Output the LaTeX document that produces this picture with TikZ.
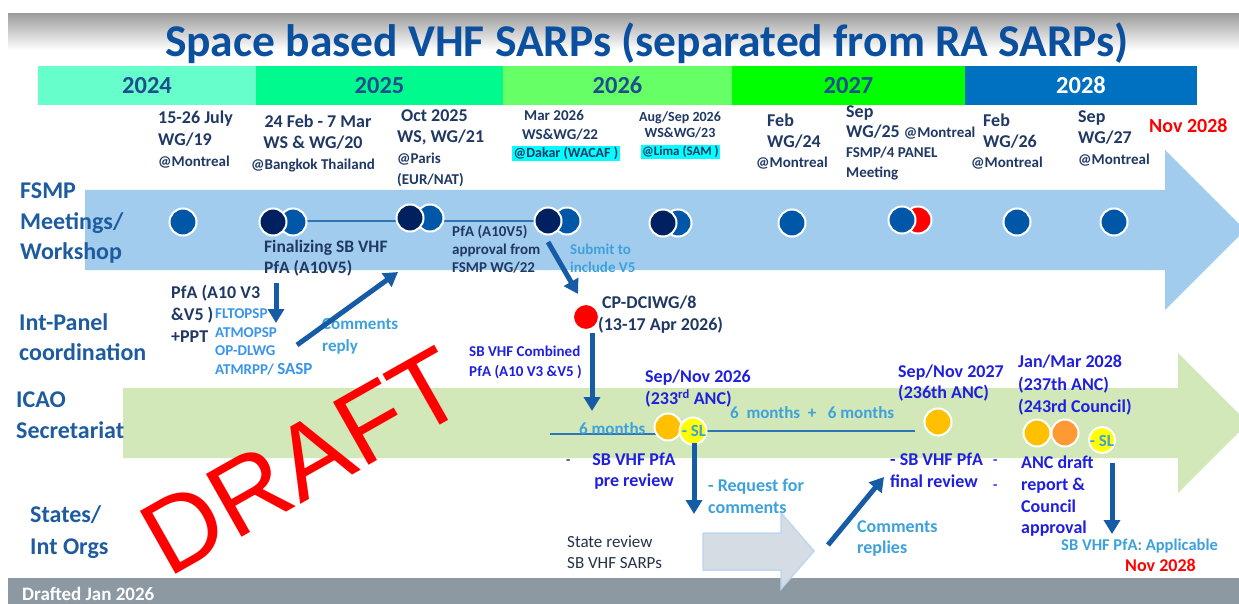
\documentclass[tikz,border=0pt]{standalone}
\usepackage{fontspec}
\setmainfont{Carlito}
\newfontfamily\draftfont{Liberation Sans}
\usetikzlibrary{arrows.meta}
\definecolor{titleblue}{HTML}{0B4F9F}
\definecolor{dnavy}{HTML}{1F3864}
\definecolor{lblblue}{HTML}{1E5C9F}
\definecolor{brblue}{HTML}{1F1FE0}
\definecolor{ltblue}{HTML}{3DA2DC}
\definecolor{mdblue}{HTML}{3A95EA}
\definecolor{arrblue}{HTML}{165BA6}
\definecolor{cmid}{HTML}{0057A8}
\definecolor{cnavy}{HTML}{002060}
\definecolor{corange}{HTML}{FFC000}
\definecolor{clorange}{HTML}{FF9933}
\definecolor{cyellow}{HTML}{FFFF00}
\definecolor{cred}{HTML}{FF0000}
\definecolor{bandblue}{HTML}{A2CCEE}
\definecolor{bandgreen}{HTML}{D3E8B8}
\definecolor{yrA}{HTML}{66FFCC}
\definecolor{yrB}{HTML}{00FA8E}
\definecolor{yrC}{HTML}{66FF66}
\definecolor{yrD}{HTML}{00FF00}
\definecolor{yrE}{HTML}{0070C0}
\definecolor{yrtext}{HTML}{1F4E8F}
\definecolor{footgray}{HTML}{8C99A3}
\definecolor{sgray}{HTML}{D6DCE4}
\definecolor{sedge}{HTML}{BDD7EE}
\definecolor{statetext}{HTML}{263248}
\definecolor{hlcyan}{HTML}{00FFFF}
\definecolor{linkblue}{HTML}{2E75B6}
\newcommand{\fsz}[2]{\fontsize{#1}{#2}\selectfont}
\begin{document}
\begin{tikzpicture}[x=1pt,y=-1pt,
  lb/.style={inner sep=0,align=left,anchor=base west},
  lbc/.style={inner sep=0,align=center,anchor=base},
  yr/.style={inner sep=0,minimum height=39,font=\bfseries\fsz{24.5}{28},text=yrtext},
  dot/.style={circle,inner sep=0,minimum size=27,draw=white,line width=2},
  arr/.style={line width=5,draw=arrblue,-{Triangle[length=14,width=16]}},
  link/.style={line width=1.3,draw=linkblue}]
\useasboundingbox (0,0) rectangle (1239,604);
\fill[white] (0,0) rectangle (1239,604);
\shade[top color=black!38,bottom color=white] (8,14) rectangle (1239,50);
\node[inner sep=0,anchor=base,font=\bfseries\fsz{45.5}{50},text=titleblue] (title) at (647,57) {Space based VHF SARPs (separated from RA SARPs)};
% years
\node[yr,fill=yrA,minimum width=218] (b24) at (147,85.5) {2024};
\node[yr,fill=yrB,minimum width=247] (b25) at (379.5,85.5) {2025};
\node[yr,fill=yrC,minimum width=229] (b26) at (617.5,85.5) {2026};
\node[yr,fill=yrD,minimum width=233] (b27) at (848.5,85.5) {2027};
\node[yr,fill=yrE,minimum width=232,text=white] (b28) at (1081,85.5) {2028};
% bands
\fill[bandblue] (85,190) -- (1165,190) -- (1165,150) -- (1245,230) -- (1165,310) -- (1165,270) -- (85,270) -- cycle;
\fill[bandgreen] (123,388) -- (1178,388) -- (1178,353) -- (1248,423) -- (1178,493) -- (1178,458) -- (123,458) -- cycle;
% footer
\fill[footgray] (8,578) rectangle (1239,604);
\node[lb,font=\bfseries\fsz{19}{22},text=white] (foot) at (22,600) {Drafted Jan 2026};
\filldraw[fill=sgray,draw=sedge,line width=1.5] (703,533) -- (781,533) -- (781,513) -- (814,551) -- (781,589) -- (781,570) -- (703,570) -- cycle;
% band labels
\node[lb,font=\bfseries\fsz{24}{30.5},text=lblblue] (lfsmp) at (20,259.5) {FSMP\\Meetings/\\Workshop};
\node[lb,font=\bfseries\fsz{24}{30},text=lblblue] (lint) at (19,360.5) {Int-Panel\\coordination};
\node[lb,font=\bfseries\fsz{24}{31},text=lblblue] (licao) at (16,438.5) {ICAO\\Secretariat};
\node[lb,font=\bfseries\fsz{24}{32},text=lblblue] (lstate) at (30,554.5) {States/\\Int Orgs};
% meeting labels
\node[lb,font=\bfseries\fsz{18}{21.5},text=dnavy] (m19) at (158,166.8) {15-26 July\\WG/19\\{\fsz{15}{21}@Montreal}};
\node[lbc,font=\bfseries\fsz{18}{21},text=dnavy] (m20) at (313,169.8) {\hspace*{10pt}24 Feb - 7 Mar\\WS \& WG/20\\{\fsz{15}{20}@Bangkok Thailand}};
\node[lb,font=\bfseries\fsz{18}{21},text=dnavy] (m21) at (397,184.8) {\hspace*{4pt}Oct 2025\\WS, WG/21\\{\fsz{15}{21}@Paris}\\{\fsz{15}{21}(EUR/NAT)}};
\node[lb,font=\bfseries\fsz{15}{19},text=dnavy] (m22) at (522,139.8) {\hspace*{2pt}Mar 2026\\WS\&WG/22};
\node[inner sep=1.5,fill=hlcyan,anchor=west,font=\bfseries\fsz{14}{16},text=dnavy] (m22c) at (512,153.5) {@Dakar (WACAF )};
\node[lbc,font=\bfseries\fsz{14}{16},text=dnavy] (m23) at (680,137.3) {Aug/Sep 2026\\WS\&WG/23};
\node[inner sep=1.5,fill=hlcyan,font=\bfseries\fsz{13}{15},text=dnavy] (m23c) at (680.5,152) {@Lima (SAM )};
\node[lb,font=\bfseries\fsz{18}{20.5},text=dnavy] (m24) at (767,167.8) {Feb\\WG/24\\\hspace*{-11pt}{\fsz{15}{20}@Montreal}};
\node[lb,font=\bfseries\fsz{18}{20},text=dnavy] (m25) at (846,177.8) {Sep\\WG/25 {\fsz{15}{20}@Montreal}\\{\fsz{15}{20}FSMP/4 PANEL}\\{\fsz{15}{20}Meeting}};
\node[lb,font=\bfseries\fsz{18}{20.5},text=dnavy] (m26) at (983,167.8) {Feb\\WG/26\\\hspace*{-12pt}{\fsz{15}{20}@Montreal}};
\node[lb,font=\bfseries\fsz{18}{21},text=dnavy] (m27) at (1078,164.8) {Sep\\WG/27\\{\fsz{15}{20}@Montreal}};
\node[lb,font=\bfseries\fsz{20}{22},text=red] (nov) at (1149,132.5) {Nov 2028};
% FSMP band texts
\node[lb,font=\bfseries\fsz{17.5}{21},text=dnavy] (fin) at (264,273.6) {Finalizing SB VHF\\PfA (A10V5)};
\node[lb,font=\bfseries\fsz{15}{18},text=dnavy] (appr) at (452,272.8) {PfA (A10V5)\\approval from\\FSMP WG/22};
\node[lb,font=\bfseries\fsz{15}{18},text=ltblue] (sub) at (570,272.8) {Submit to\\include V5};
% int panel texts
\node[lb,font=\bfseries\fsz{18}{22},text=dnavy] (pfa) at (171,342.8) {PfA (A10 V3\\\&V5 )\\+PPT};
\node[lb,font=\bfseries\fsz{15}{18.5},text=mdblue] (panels) at (215,374) {FLTOPSP\\ATMOPSP\\OP-DLWG\\ATMRPP/ {\fsz{17}{18.5}SASP}};
\node[lb,font=\bfseries\fsz{17}{22},text=ltblue] (com) at (322,351.2) {Comments\\reply};
\node[lb,font=\bfseries\fsz{18}{22},text=dnavy] (cptxt) at (602,330.8) {CP-DCIWG/8\\\hspace*{-4pt}(13-17 Apr 2026)};
\node[lb,font=\bfseries\fsz{15}{20},text=brblue] (sbc) at (469,376.8) {SB VHF Combined\\PfA (A10 V3 \&V5 )};
% green band texts
\node[lb,font=\bfseries\fsz{18}{22},text=brblue] (snov26) at (645,404.8) {Sep/Nov 2026\\(233\textsuperscript{rd} ANC)};
\node[lb,font=\bfseries\fsz{18}{21},text=brblue] (snov27) at (898,398.8) {Sep/Nov 2027\\(236th ANC)};
\node[lb,font=\bfseries\fsz{18}{22.5},text=brblue] (jan28) at (1018,412.8) {Jan/Mar 2028\\(237th ANC)\\(243rd Council)};
% lines
\coordinate (l1s) at (293,221); \coordinate (l1e) at (567,221);
\draw[link] (l1s) -- (l1e);
\coordinate (g1s) at (550,434); \coordinate (g1e) at (668,434);
\draw[link] (g1s) -- (g1e);
\coordinate (g2s) at (693,431); \coordinate (g2e) at (915,431);
\draw[link] (g2s) -- (g2e);
\node[lb,font=\bfseries\fsz{17}{20},text=ltblue] (six1) at (579,434.5) {6 months};
\node[lb,font=\bfseries\fsz{17}{20},text=ltblue] (six2) at (730,418.5) {6\ \ months\ \ +\ \ \ 6 months};
% FSMP circles
\node[dot,fill=cmid] (c1) at (183,222) {};
\node[dot,fill=cmid] (c2b) at (293,222) {};
\node[dot,fill=cnavy] (c2a) at (273,222) {};
\node[dot,fill=cmid] (c3b) at (430,218) {};
\node[dot,fill=cnavy] (c3a) at (410,218) {};
\node[dot,fill=cmid] (c4b) at (567,221) {};
\node[dot,fill=cnavy] (c4a) at (548,221) {};
\node[dot,fill=cmid] (c5b) at (678,223) {};
\node[dot,fill=cnavy] (c5a) at (663,223) {};
\node[dot,fill=cmid] (c6) at (792,223) {};
\node[dot,fill=cred] (c7b) at (918,220) {};
\node[dot,fill=cmid] (c7a) at (902,220) {};
\node[dot,fill=cmid] (c8) at (1017,222) {};
\node[dot,fill=cmid] (c9) at (1114,222) {};
\node[dot,fill=cred,minimum size=26] (cp) at (586,317) {};
% green circles
\node[dot,fill=corange] (o1) at (668,427) {};
\node[dot,fill=cyellow] (y1) at (693,431) {};
\node[inner sep=0,font=\bfseries\fsz{17}{20},text=ltblue] (sl1) at (694,430.5) {- SL};
\node[dot,fill=corange] (o2) at (938,422) {};
\node[dot,fill=corange] (o3) at (1037,433) {};
\node[dot,fill=clorange] (o4) at (1065,433) {};
\node[dot,fill=cyellow,minimum size=26] (y2) at (1102,440) {};
\node[inner sep=0,font=\bfseries\fsz{17}{20},text=ltblue] (sl2) at (1102,441) {- SL};
% lower texts
\node[lb,font=\bfseries\fsz{14}{16},text=dnavy] (dash1) at (566,464) {-};
\node[lbc,font=\bfseries\fsz{18}{21},text=brblue] (pre) at (634,486.8) {SB VHF PfA\\pre review};
\node[lb,font=\bfseries\fsz{18}{22},text=brblue] (fin2) at (890,487.8) {- SB VHF PfA\\final review};
\node[lb,font=\bfseries\fsz{14}{25},text=brblue] (dash2) at (993,489) {-\\-};
\node[lb,font=\bfseries\fsz{18}{22},text=ltblue] (req) at (708,513.8) {- Request for\\comments};
\node[lb,font=\bfseries\fsz{18}{21},text=ltblue] (crep) at (857,553.8) {Comments\\replies};
\node[lb,font=\bfseries\fsz{18}{21.7},text=brblue] (anc) at (1021,533.8) {ANC draft\\report \&\\Council\\approval};
\node[lb,font=\bfseries\fsz{16.5}{20},text=ltblue] (appl) at (1061,550) {SB VHF PfA: Applicable};
\node[lb,font=\bfseries\fsz{18}{20},text=red] (nov2) at (1125,571.8) {Nov 2028};
\node[lb,font=\fsz{17}{21},text=statetext] (state) at (567,568) {State review\\SB VHF SARPs};
% arrows
\coordinate (a1s) at (276,283); \coordinate (a1e) at (276,323);
\coordinate (a2s) at (297,345); \coordinate (a2e) at (398,272);
\coordinate (a3s) at (548,242); \coordinate (a3e) at (578,294);
\coordinate (a4s) at (592,333); \coordinate (a4e) at (592,411);
\coordinate (a5s) at (694,443); \coordinate (a5e) at (694,514);
\coordinate (a6s) at (828,545); \coordinate (a6e) at (884,477);
\coordinate (a7s) at (1112,463); \coordinate (a7e) at (1112,534);
\draw[arr] (a1s) -- (a1e);
\draw[arr] (a2s) -- (a2e);
\draw[arr] (a3s) -- (a3e);
\draw[arr] (a4s) -- (a4e);
\draw[arr] (a5s) -- (a5e);
\draw[arr] (a6s) -- (a6e);
\draw[arr] (a7s) -- (a7e);
% watermark
\node[inner sep=0,anchor=base west,rotate=29.5,font=\draftfont\fsz{105}{105},text=red] (draft) at (168,579) {DRAFT};
\end{tikzpicture}
\end{document}
